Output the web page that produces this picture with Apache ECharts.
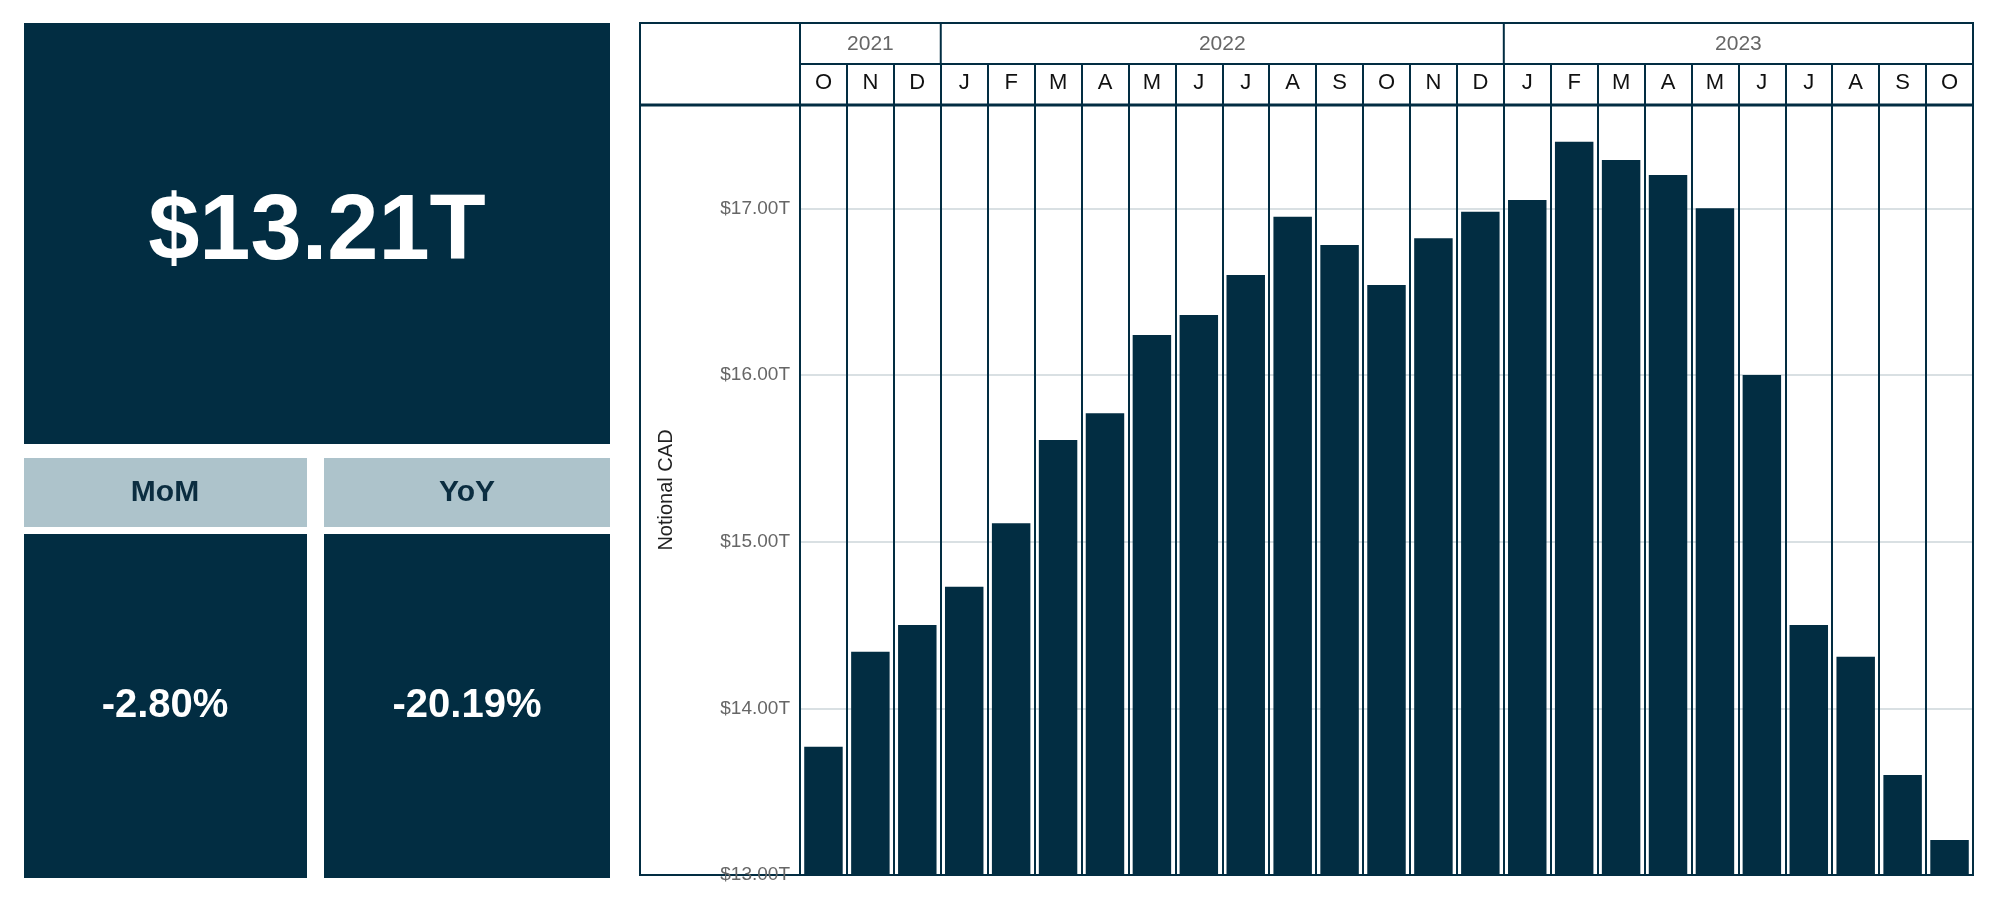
<!DOCTYPE html>
<html><head><meta charset="utf-8">
<script src="https://cdn.jsdelivr.net/npm/echarts@6/dist/echarts.min.js"></script>
<style>html,body{margin:0;padding:0;background:#fff}#c{width:2000px;height:900px}</style>
</head><body><div id="c"></div>
<script>
const months = ['O','N','D','J','F','M','A','M','J','J','A','S','O','N','D','J','F','M','A','M','J','J','A','S','O'];
const yearLabels = ['2021','2022','2023'];
const yearSpans = [3,12,10];
const values = [13.77,14.34,14.50,14.73,15.11,15.61,15.77,16.24,16.36,16.60,16.95,16.78,16.54,16.82,16.98,17.05,17.40,17.29,17.20,17.00,16.00,14.50,14.31,13.60,13.21];
const kpiMain = '$13.21T';
const kpiLabels = ['MoM','YoY'];
const kpiValues = ['-2.80%','-20.19%'];

const DARK = '#022d42', FONT = '"Liberation Sans", Arial, sans-serif';
const chart = echarts.init(document.getElementById('c'));
const baseGraphic = [
  {type:'rect',shape:{x:24,y:23,width:586,height:421},style:{fill:DARK}},
  {type:'text',x:317,y:234,style:{text:kpiMain,fill:'#fff',font:'bold 92px '+FONT,align:'center',verticalAlign:'middle'}},
  {type:'rect',shape:{x:24,y:458,width:283,height:69},style:{fill:'#adc3cb'}},
  {type:'rect',shape:{x:324,y:458,width:286,height:69},style:{fill:'#adc3cb'}},
  {type:'text',x:165,y:493,style:{text:kpiLabels[0],fill:'#0b2d40',font:'bold 30px '+FONT,align:'center',verticalAlign:'middle'}},
  {type:'text',x:467,y:493,style:{text:kpiLabels[1],fill:'#0b2d40',font:'bold 30px '+FONT,align:'center',verticalAlign:'middle'}},
  {type:'rect',shape:{x:24,y:534,width:283,height:344},style:{fill:DARK}},
  {type:'rect',shape:{x:324,y:534,width:286,height:344},style:{fill:DARK}},
  {type:'text',x:165,y:706,style:{text:kpiValues[0],fill:'#fff',font:'bold 40px '+FONT,align:'center',verticalAlign:'middle'}},
  {type:'text',x:467,y:706,style:{text:kpiValues[1],fill:'#fff',font:'bold 40px '+FONT,align:'center',verticalAlign:'middle'}},
  {type:'rect',shape:{x:640,y:23,width:1333,height:852},style:{fill:'none',stroke:DARK,lineWidth:2}},
  {type:'line',shape:{x1:640,y1:105,x2:1973,y2:105},style:{stroke:DARK,lineWidth:3}},
  {type:'line',shape:{x1:800,y1:64,x2:1973,y2:64},style:{stroke:DARK,lineWidth:2}},
  {type:'line',shape:{x1:800,y1:23,x2:800,y2:875},style:{stroke:DARK,lineWidth:2}}
];
chart.setOption({
  animation:false,
  grid:{left:800,right:27,top:105,bottom:25},
  xAxis:{type:'category',data:months,position:'top',
    axisLine:{show:false},
    axisTick:{show:true,interval:0,length:41,inside:false,lineStyle:{color:DARK,width:2}},
    axisLabel:{interval:0,margin:11,color:'#111',fontSize:22,fontFamily:FONT},
    splitLine:{show:true,interval:0,lineStyle:{color:DARK,width:2}}},
  yAxis:{type:'value',min:13,max:17.62,interval:1,
    name:'Notional CAD',nameLocation:'middle',nameGap:124,nameTextStyle:{color:'#222',fontSize:20,fontFamily:FONT},
    axisLine:{show:false},axisTick:{show:false},
    axisLabel:{showMaxLabel:false,color:'#666',fontSize:19,fontFamily:FONT,margin:10,formatter:v=>'$'+v.toFixed(2)+'T'},
    splitLine:{lineStyle:{color:'#cdd6da',width:1.5}}},
  series:[{type:'bar',data:values,barWidth:'82%',itemStyle:{color:DARK},z:3}],
  graphic:baseGraphic
});
// year header from axis positions
const g = baseGraphic.slice();
let start = 0;
const half = (chart.convertToPixel({xAxisIndex:0},1)-chart.convertToPixel({xAxisIndex:0},0))/2;
yearLabels.forEach((y,i)=>{
  const end = start+yearSpans[i]-1;
  const x0 = chart.convertToPixel({xAxisIndex:0},start)-half;
  const x1 = chart.convertToPixel({xAxisIndex:0},end)+half;
  g.push({type:'text',x:(x0+x1)/2,y:44,style:{text:y,fill:'#666',font:'21px '+FONT,align:'center',verticalAlign:'middle'}});
  if(i>0) g.push({type:'line',shape:{x1:x0,y1:23,x2:x0,y2:64},style:{stroke:DARK,lineWidth:2}});
  start = end+1;
});
chart.setOption({graphic:g},{replaceMerge:['graphic']});
</script></body></html>
